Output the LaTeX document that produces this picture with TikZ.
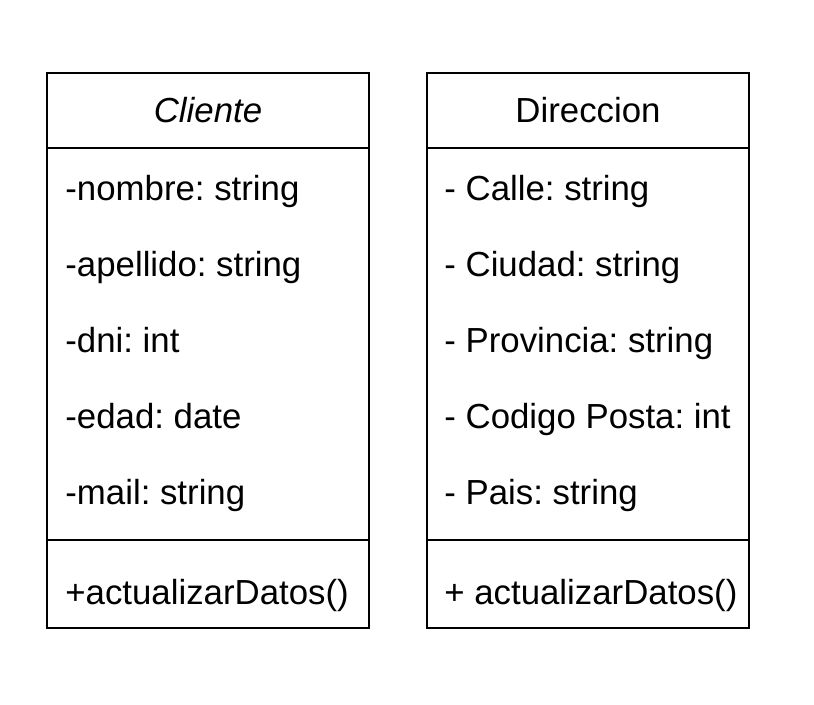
\documentclass[tikz,border=0pt]{standalone}
\usepackage{fontspec}
\setmainfont{Liberation Sans}
\usepackage{tikz}
\usetikzlibrary{positioning}
\frenchspacing

\begin{document}
\begin{tikzpicture}[x=0.5pt,y=-0.5pt,
	every node/.style={font=\fontsize{17.4pt}{21pt}\selectfont},
	classpart/.style={draw,line width=1.25pt,minimum width=161pt,inner sep=0pt,outer sep=0pt},
	member/.style={anchor=base west,inner sep=0pt}]
	\useasboundingbox (0,0) rectangle (814,705);

	% Cliente
	\node[classpart,minimum height=37.5pt,anchor=north west] (cliHead) at (47,73) {\textit{Cliente}};
	\node[classpart,minimum height=196pt] (cliAttr) [below=0pt of cliHead] {};
	\node[classpart,minimum height=44pt] (cliOps) [below=0pt of cliAttr] {};
	\foreach \txt [count=\i] in {-nombre: string,-apellido: string,-dni: int,-edad: date,-mail: string}
		\node[member] (cliAttr\i) at ([xshift=9pt,yshift={-26.5pt-(\i-1)*38pt}]cliAttr.north west) {\txt};
	\node[member] (cliOp1) at ([xshift=9pt,yshift=-32pt]cliOps.north west) {+actualizarDatos()};

	% Direccion
	\node[classpart,minimum height=37.5pt,anchor=north west] (dirHead) at (427,73) {Direccion};
	\node[classpart,minimum height=196pt] (dirAttr) [below=0pt of dirHead] {};
	\node[classpart,minimum height=44pt] (dirOps) [below=0pt of dirAttr] {};
	\foreach \txt [count=\i] in {- Calle: string,- Ciudad: string,- Provincia: string,- Codigo Posta: int,- Pais: string}
		\node[member] (dirAttr\i) at ([xshift=8.5pt,yshift={-26.5pt-(\i-1)*38pt}]dirAttr.north west) {\txt};
	\node[member] (dirOp1) at ([xshift=8.5pt,yshift=-32pt]dirOps.north west) {+ actualizarDatos()};
\end{tikzpicture}
\end{document}
